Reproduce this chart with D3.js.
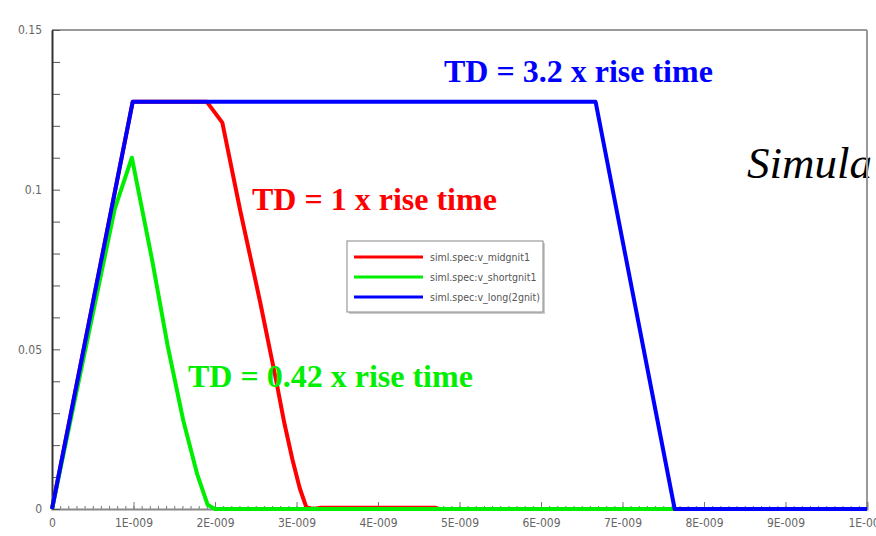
<!DOCTYPE html>
<html>
<head>
<meta charset="utf-8">
<script src="https://cdn.jsdelivr.net/npm/d3@7"></script>
<style>
  body { margin: 0; background: #fff; overflow: hidden; }
  svg { display: block; }
  .tick text { font-family: "DejaVu Sans Condensed", "DejaVu Sans", sans-serif; font-size: 12px; fill: #666; }
</style>
</head>
<body>
<svg id="chart" width="876" height="536"></svg>
<script>
// time in ns, voltage in V
const seriesNames = ['siml.spec:v_midgnit1', 'siml.spec:v_shortgnit1', 'siml.spec:v_long(2gnit)']
const seriesColors = ['#ff0000', '#00ee00', '#0000ff']

const midValues = [[0, 0], [0.99, 0.1275], [1.90, 0.1275], [2.09, 0.121], [2.31, 0.0934], [2.55, 0.0653],
  [2.75, 0.0403], [2.85, 0.027], [2.95, 0.0155], [3.04, 0.0065], [3.12, 0.0006], [3.2, 0], [3.3, 0.0004],
  [4.7, 0.0004], [4.75, 0], [10, 0]]
const shortValues = [[0, 0], [0.77, 0.094], [0.98, 0.110], [1.23, 0.0778], [1.42, 0.051], [1.61, 0.0278],
  [1.78, 0.011], [1.91, 0.0013], [2.0, 0], [10, 0]]
const longValues = [[0, 0], [0.99, 0.1275], [6.67, 0.1275], [7.64, 0], [10, 0]]

const xTicks = [0, 1, 2, 3, 4, 5, 6, 7, 8, 9, 10]
const xTickLabels = ['0', '1E-009', '2E-009', '3E-009', '4E-009', '5E-009', '6E-009', '7E-009', '8E-009', '9E-009', '1E-008']
const yTicks = [0, 0.05, 0.1, 0.15]
const yTickLabels = ['0', '0.05', '0.1', '0.15']

const annotations = [
  { text: 'TD = 3.2 x rise time', color: '#0000ff', x: 444, y: 82 },
  { text: 'TD = 1 x rise time', color: '#ff0000', x: 252, y: 210 },
  { text: 'TD = 0.42 x rise time', color: '#00ee00', x: 188, y: 387 }
]

const svg = d3.select('#chart')
const plotLeft = 52, plotRight = 867, plotTop = 30, plotBottom = 509

const x = d3.scaleLinear().domain([0, 10]).range([plotLeft, plotRight])
const y = d3.scaleLinear().domain([0, 0.15]).range([plotBottom, plotTop])

// big italic title, cut off by the window edge
svg.append('text')
  .attr('x', 747).attr('y', 178)
  .attr('font-family', '"Liberation Serif", serif')
  .attr('font-style', 'italic')
  .attr('font-size', 45)
  .attr('fill', '#000')
  .text('Simula')

// frame
svg.append('line').attr('x1', plotLeft).attr('x2', plotRight).attr('y1', plotTop).attr('y2', plotTop)
  .attr('stroke', '#999').attr('stroke-width', 2)
svg.append('line').attr('x1', plotRight).attr('x2', plotRight).attr('y1', plotTop).attr('y2', plotBottom)
  .attr('stroke', '#999').attr('stroke-width', 2)

// minor x ticks
svg.append('g')
  .attr('transform', `translate(0,${plotBottom})`)
  .call(d3.axisBottom(x).tickValues(d3.range(0, 100).map(d => d / 10)).tickSize(-3).tickFormat(''))
  .call(g => g.select('.domain').remove())
  .call(g => g.selectAll('.tick line').attr('stroke', '#777'))

// major x ticks with labels
svg.append('g')
  .attr('transform', `translate(0,${plotBottom})`)
  .call(d3.axisBottom(x).tickValues(xTicks).tickSize(-7).tickPadding(9)
    .tickFormat((d, i) => xTickLabels[i]))
  .call(g => g.select('.domain').attr('stroke', '#888').attr('stroke-width', 2))
  .call(g => g.selectAll('.tick line').attr('stroke', '#777'))

// y ticks
svg.append('g')
  .attr('transform', `translate(${plotLeft},0)`)
  .call(d3.axisLeft(y).tickValues(d3.range(0, 16).map(d => d / 100)).tickSize(-8).tickFormat(''))
  .call(g => g.select('.domain').remove())
  .call(g => g.selectAll('.tick line').attr('stroke', '#555'))

svg.append('g')
  .attr('transform', `translate(${plotLeft},0)`)
  .call(d3.axisLeft(y).tickValues(yTicks).tickSize(0).tickPadding(10)
    .tickFormat((d, i) => yTickLabels[i]))
  .call(g => g.select('.domain').attr('stroke', '#333').attr('stroke-width', 2))

// curves: red under green, blue on top
const line = d3.line().x(d => x(d[0])).y(d => y(d[1]))
const series = [midValues, shortValues, longValues]
svg.append('g').selectAll('path')
  .data(series)
  .join('path')
  .attr('d', d => line(d))
  .attr('fill', 'none')
  .attr('stroke', (d, i) => seriesColors[i])
  .attr('stroke-width', 4)
  .attr('stroke-linejoin', 'round')

// annotations
svg.append('g').selectAll('text')
  .data(annotations)
  .join('text')
  .attr('x', d => d.x).attr('y', d => d.y)
  .attr('font-family', '"Liberation Serif", serif')
  .attr('font-weight', 'bold')
  .attr('font-size', 32)
  .attr('fill', d => d.color)
  .text(d => d.text)

// legend
const legend = svg.append('g').attr('transform', 'translate(347,241)')
legend.append('rect').attr('x', 2).attr('y', 2).attr('width', 196).attr('height', 71).attr('fill', '#ccc')
legend.append('rect').attr('width', 196).attr('height', 71).attr('fill', '#fff').attr('stroke', '#888')
const items = legend.selectAll('.item').data(seriesNames).join('g')
  .attr('class', 'item')
  .attr('transform', (d, i) => `translate(0,${16 + i * 20})`)
items.append('line').attr('x1', 7).attr('x2', 76)
  .attr('stroke', (d, i) => seriesColors[i]).attr('stroke-width', 3)
items.append('text').attr('x', 83).attr('dy', '0.35em')
  .attr('font-family', '"DejaVu Sans Condensed", sans-serif')
  .attr('font-size', 10.5).attr('fill', '#555')
  .text(d => d)
</script>
</body>
</html>
